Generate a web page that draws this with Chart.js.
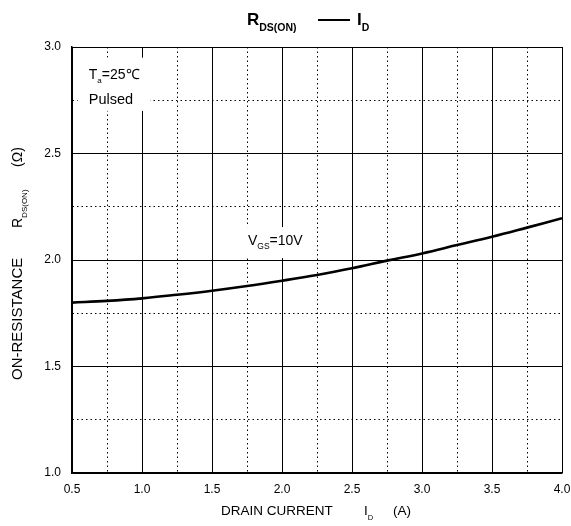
<!DOCTYPE html>
<html>
<head>
<meta charset="utf-8">
<script src="https://cdn.jsdelivr.net/npm/chart.js@4.4.1/dist/chart.umd.min.js"></script>
<style>
  html, body { margin: 0; padding: 0; background: #fff; }
  #wrap { width: 571px; height: 526px; }
</style>
</head>
<body>
<div id="wrap"><canvas id="myChart" width="571" height="526"></canvas></div>
<script>
// drain current (A) and on-resistance (ohm)
const currents = [0.5, 0.75, 1.0, 1.25, 1.5, 1.75, 2.0, 2.25, 2.5, 2.75, 3.0, 3.25, 3.5, 3.75, 4.0];
const resistance = [1.80, 1.808, 1.82, 1.837, 1.856, 1.878, 1.903, 1.93, 1.961, 1.997, 2.031, 2.07, 2.109, 2.152, 2.196];
const xRange = [0.5, 4.0];
const yRange = [1.0, 3.0];

const FONT = '"Liberation Sans", Arial, Helvetica, sans-serif';

const isMajor = v => Math.abs(v * 2 - Math.round(v * 2)) < 1e-6;

// draws text pieces with subscripts: [text, size, dy, bold]
function drawPieces(ctx, x, y, pieces) {
    let cx = x;
    pieces.forEach(p => {
        ctx.font = (p[3] ? 'bold ' : '') + p[1] + 'px ' + FONT;
        ctx.fillText(p[0], cx, y + p[2]);
        cx += ctx.measureText(p[0]).width;
    });
    return cx;
}

const labelsPlugin = {
    id: 'labels',
    afterDatasetsDraw(chart) {
        const ctx = chart.ctx;
        const xs = chart.scales.x, ys = chart.scales.y;
        ctx.save();
        ctx.textBaseline = 'alphabetic';
        ctx.textAlign = 'left';

        // T_a=25C / Pulsed box
        const bx = xs.getPixelForValue(0.54), by = ys.getPixelForValue(2.95);
        ctx.fillStyle = '#fff';
        ctx.fillRect(bx, by, xs.getPixelForValue(1.06) - bx, ys.getPixelForValue(2.7) - by);
        ctx.fillStyle = '#000';
        const tx = xs.getPixelForValue(0.62);
        drawPieces(ctx, tx, ys.getPixelForValue(2.85), [['T', 14, 0], ['a', 8, 4], ['=25\u2103', 14, 0]]);
        drawPieces(ctx, tx, ys.getPixelForValue(2.733), [['Pulsed', 14.5, 0]]);

        // V_GS=10V
        const vx = xs.getPixelForValue(1.757), vy = ys.getPixelForValue(2.07);
        ctx.fillStyle = '#fff';
        ctx.fillRect(vx - 2, vy - 18, 62, 31);
        ctx.fillStyle = '#000';
        drawPieces(ctx, vx, vy, [['V', 14, 0], ['GS', 8.5, 4], ['=10V', 14, 0]]);
        ctx.restore();
    },
    afterDraw(chart) {
        const ctx = chart.ctx;
        ctx.save();
        ctx.fillStyle = '#000';
        ctx.strokeStyle = '#000';
        ctx.textAlign = 'left';
        ctx.textBaseline = 'alphabetic';

        // title
        drawPieces(ctx, 247, 25, [['R', 17, 0, true], ['DS(ON)', 10.5, 6, true]]);
        ctx.lineWidth = 2;
        ctx.beginPath();
        ctx.moveTo(318, 20);
        ctx.lineTo(350, 20);
        ctx.stroke();
        drawPieces(ctx, 357, 25, [['I', 17, 0, true], ['D', 10.5, 6, true]]);

        // x axis title
        drawPieces(ctx, 221, 515, [['DRAIN CURRENT', 13.5, 0]]);
        drawPieces(ctx, 364, 515, [['I', 13.5, 0], ['D', 7.5, 5]]);
        drawPieces(ctx, 393, 515, [['(A)', 13.5, 0]]);

        // y axis title
        ctx.rotate(-Math.PI / 2);
        drawPieces(ctx, -380, 22, [['ON-RESISTANCE', 15, 0]]);
        drawPieces(ctx, -228, 22, [['R', 14, 0], ['DS(ON)', 8, 5]]);
        drawPieces(ctx, -167, 22, [['(\u03A9)', 14, 0]]);
        ctx.restore();
    }
};

const tickFont = { family: FONT, size: 12 };
const minorDash = ctx => (ctx.tick && !isMajor(ctx.tick.value)) ? [1.5, 3] : [];

new Chart(document.getElementById('myChart').getContext('2d'), {
    type: 'line',
    data: {
        labels: currents,
        datasets: [{
            data: currents.map((c, i) => ({x: c, y: resistance[i]})),
            borderColor: '#000',
            borderWidth: 2.6,
            pointRadius: 0,
            tension: 0.4,
            fill: false
        }]
    },
    options: {
        responsive: false,
        animation: false,
        devicePixelRatio: 1,
        layout: { padding: { top: 47, right: 9, left: 0, bottom: 0 } },
        plugins: { legend: { display: false }, tooltip: { enabled: false }, title: { display: false } },
        scales: {
            x: {
                type: 'linear',
                min: xRange[0],
                max: xRange[1],
                afterFit(s) { s.height = 53; s.paddingLeft = 0; s.paddingRight = 0; },
                ticks: {
                    stepSize: 0.25,
                    autoSkip: false,
                    maxRotation: 0,
                    padding: 9,
                    color: '#000',
                    font: tickFont,
                    callback: v => isMajor(v) ? v.toFixed(1) : ''
                },
                grid: { color: '#000', lineWidth: 1, drawTicks: false },
                border: { display: true, color: '#000', width: 1.5, dash: minorDash }
            },
            y: {
                type: 'linear',
                min: yRange[0],
                max: yRange[1],
                afterFit(s) { s.width = 72; s.paddingTop = 0; s.paddingBottom = 0; },
                ticks: {
                    stepSize: 0.25,
                    autoSkip: false,
                    padding: 11,
                    color: '#000',
                    font: tickFont,
                    callback: v => isMajor(v) ? v.toFixed(1) : ''
                },
                grid: { color: '#000', lineWidth: 1, drawTicks: false },
                border: { display: true, color: '#000', width: 1.5, dash: minorDash }
            }
        }
    },
    plugins: [labelsPlugin]
});
</script>
</body>
</html>
